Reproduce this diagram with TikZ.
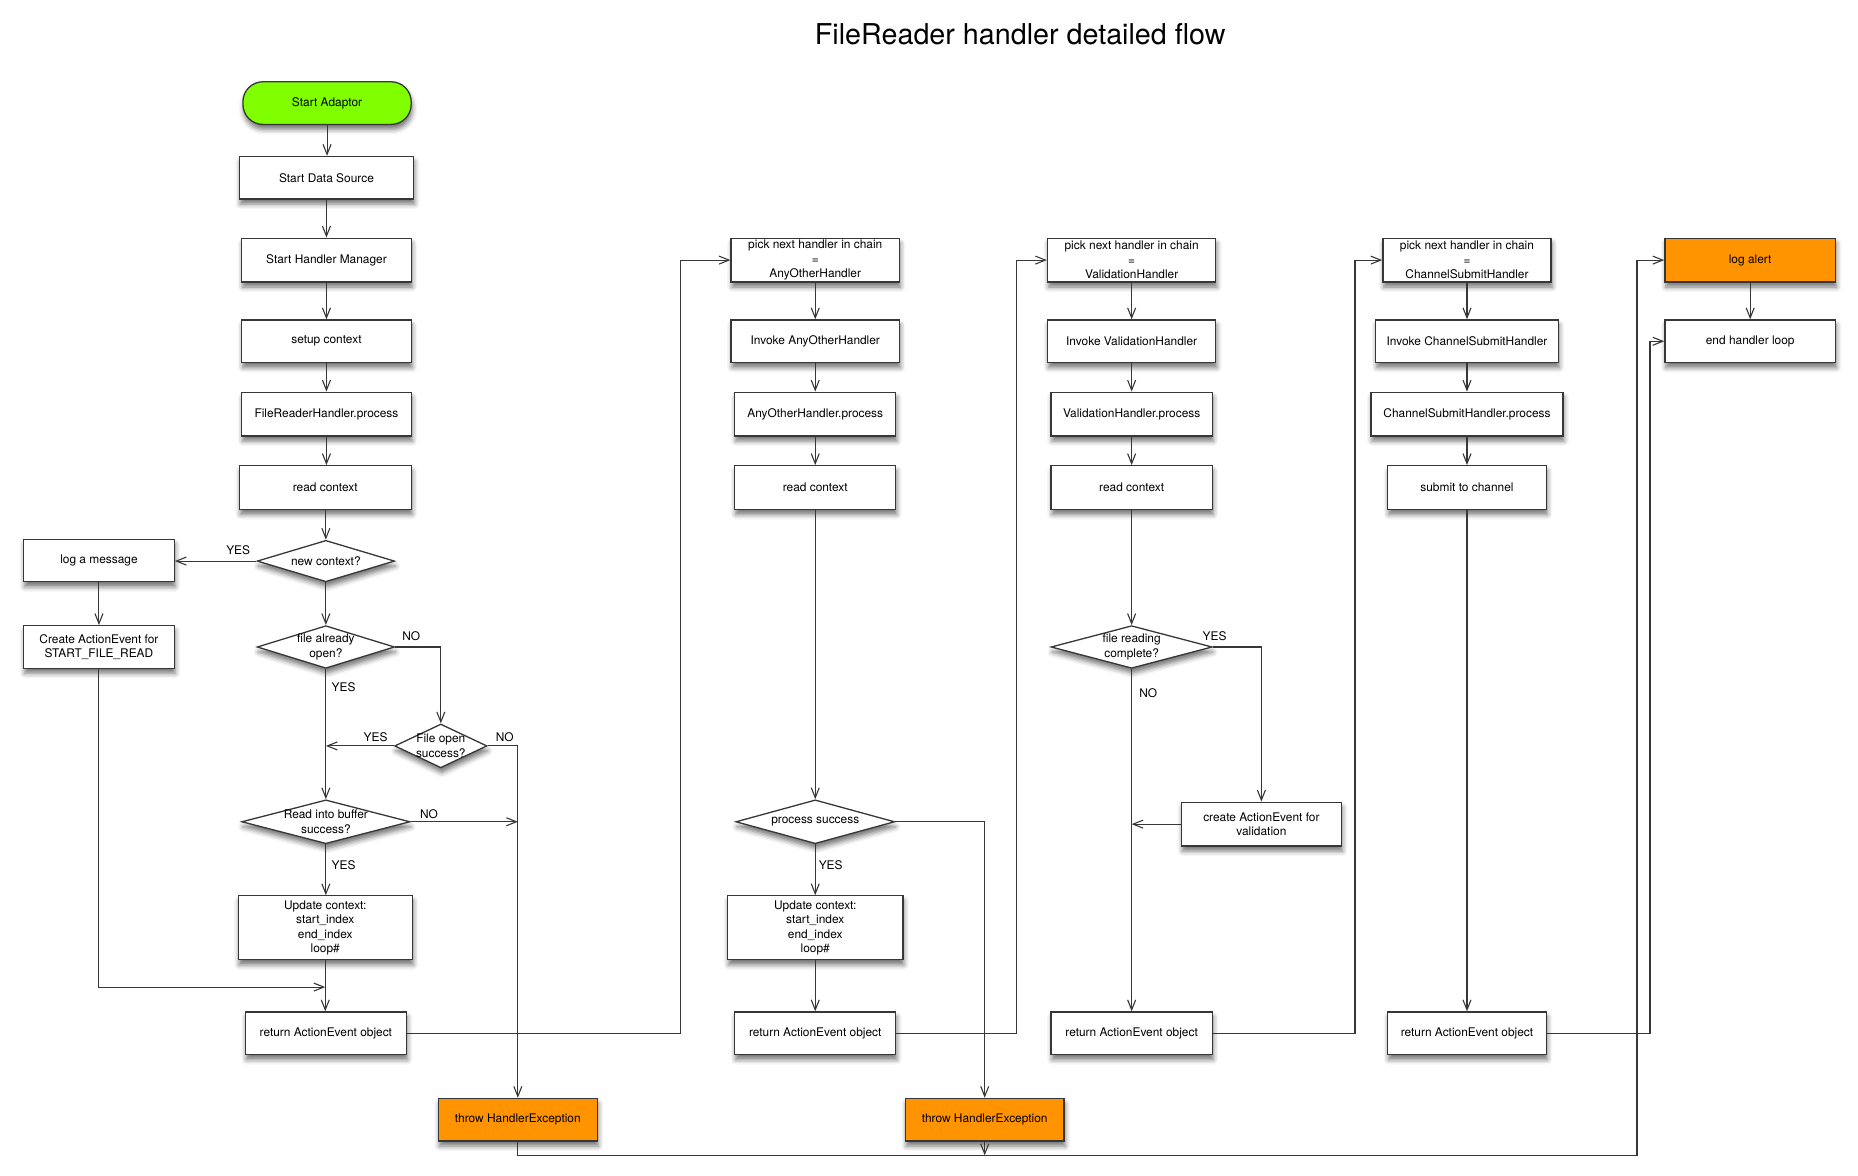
\documentclass[tikz,border=0pt]{standalone}
\usepackage{fontspec}
\setmainfont{TeX Gyre Heros}
\usetikzlibrary{arrows.meta,shapes.geometric,shadows.blur,calc}
\definecolor{lime}{RGB}{128,255,0}
\definecolor{orng}{RGB}{255,148,0}
\definecolor{edgec}{RGB}{55,55,55}
\newcommand\nf{\fontsize{11.9}{14.4}\selectfont}
% style, name, x1, x2, y1, y2, text
\newcommand\mkbox[7]{\node[#1, minimum width={(#4-#3)*1.185pt}, minimum height={(#6-#5)*1.185pt}] (#2) at ({(#3+#4)/2},{(#5+#6)/2}) {#7};}
\newcommand\mkdia[7]{\node[#1, minimum width={(#4-#3)*1.185pt}, minimum height={(#6-#5)*1.185pt}] (#2) at ({(#3+#4)/2},{(#5+#6)/2}) {};
\node[dtext] (#2T) at (#2.center) {#7};}
\newcommand\vd[2]{\draw[arr] (#1.south) -- (#1.south |- #2.north);}
\tikzset{
  shad/.style={blur shadow={shadow xshift=1pt, shadow yshift=-5pt, shadow blur radius=5pt, shadow opacity=55}},
  base/.style={draw=edgec, line width=1.3pt, fill=white, font=\nf, align=center, inner sep=0pt, shad},
  procbox/.style={base, rectangle},
  startbox/.style={base, rectangle, rounded corners=20pt, fill=lime},
  errbox/.style={base, rectangle, fill=orng},
  dia/.style={base, diamond, aspect=3},
  dtext/.style={font=\nf, align=center, inner sep=0pt},
  lbl/.style={font=\nf, inner sep=0pt},
  arr/.style={draw=edgec, line width=1.1pt, -{Straight Barb[length=10pt,width=8pt,line width=1.1pt]}},
}
\begin{document}
\begin{tikzpicture}[x=1.185pt, y=-1.185pt]
\useasboundingbox (0,0) rectangle (1568,992);
\node[font=\fontsize{28.7}{32}\selectfont] (title) at (861,29) {FileReader handler detailed flow};

% column 1
\mkbox{startbox}{start}{205}{347}{69}{105}{Start Adaptor}
\mkbox{procbox}{ds}{202}{349}{132}{168}{Start Data Source}
\mkbox{procbox}{hm}{204}{347}{201}{238}{Start Handler Manager}
\mkbox{procbox}{setup}{204}{347}{270}{306}{setup context}
\mkbox{procbox}{frp}{204}{347}{331}{368}{FileReaderHandler.process}
\mkbox{procbox}{rc1}{202}{347}{393}{430}{read context}
\mkdia{dia}{nc}{217}{333}{456}{491}{new context?}
\mkbox{procbox}{log}{20}{147}{455}{491}{log a message}
\mkbox{procbox}{create}{20}{147}{528}{564}{Create ActionEvent for\\START\_FILE\_READ}
\mkdia{dia}{fao}{217}{333}{528}{564}{file already\\open?}
\mkdia{dia}{fos}{333}{411}{611}{648}{File open\\success?}
\mkdia{dia}{rib}{204}{346}{675}{712}{Read into buffer\\success?}
\mkbox{procbox}{upd}{201}{348}{756}{810}{Update context:\\start\_index\\end\_index\\loop\#}
\mkbox{procbox}{ret1}{207}{343}{854}{890}{return ActionEvent object}
\mkbox{errbox}{thr1}{370}{504}{927}{963}{throw HandlerException}

% column 2
\mkbox{procbox}{pick1}{617}{759}{201}{238}{pick next handler in chain\\=\\AnyOtherHandler}
\mkbox{procbox}{inv1}{617}{759}{270}{306}{Invoke AnyOtherHandler}
\mkbox{procbox}{proc1}{620}{756}{331}{368}{AnyOtherHandler.process}
\mkbox{procbox}{rc2}{620}{756}{393}{430}{read context}
\mkdia{dia}{ps}{621}{755}{675}{712}{process success}
\mkbox{procbox}{upd2}{614}{762}{756}{810}{Update context:\\start\_index\\end\_index\\loop\#}
\mkbox{procbox}{ret2}{620}{756}{854}{890}{return ActionEvent object}
\mkbox{errbox}{thr2}{764}{898}{927}{963}{throw HandlerException}

% column 3
\mkbox{procbox}{pick2}{884}{1026}{201}{238}{pick next handler in chain\\=\\ValidationHandler}
\mkbox{procbox}{inv2}{884}{1026}{270}{306}{Invoke ValidationHandler}
\mkbox{procbox}{proc2}{887}{1023}{331}{368}{ValidationHandler.process}
\mkbox{procbox}{rc3}{887}{1023}{393}{430}{read context}
\mkdia{dia}{frc}{887}{1023}{528}{564}{file reading\\complete?}
\mkbox{procbox}{cav}{997}{1132}{677}{714}{create ActionEvent for\\validation}
\mkbox{procbox}{ret3}{887}{1023}{854}{890}{return ActionEvent object}

% column 4
\mkbox{procbox}{pick3}{1167}{1309}{201}{238}{pick next handler in chain\\=\\ChannelSubmitHandler}
\mkbox{procbox}{inv3}{1161}{1315}{270}{306}{Invoke ChannelSubmitHandler}
\mkbox{procbox}{proc3}{1157}{1319}{331}{368}{ChannelSubmitHandler.process}
\mkbox{procbox}{submit}{1171}{1305}{393}{430}{submit to channel}
\mkbox{procbox}{ret4}{1171}{1305}{854}{890}{return ActionEvent object}

% column 5
\mkbox{errbox}{alert}{1405}{1549}{201}{238}{log alert}
\mkbox{procbox}{endl}{1405}{1549}{270}{306}{end handler loop}

% labels
\node[lbl] (l1) at (201,464) {YES};
\node[lbl] (l2) at (347,537) {NO};
\node[lbl] (l3) at (290,580) {YES};
\node[lbl] (l4) at (317,622) {YES};
\node[lbl] (l5) at (426,622) {NO};
\node[lbl] (l6) at (362,687) {NO};
\node[lbl] (l7) at (290,730) {YES};
\node[lbl] (l8) at (701,730) {YES};
\node[lbl] (l9) at (1025,537) {YES};
\node[lbl] (l10) at (969,585) {NO};

\coordinate (bot) at (0,975);
\coordinate (m1) at (0,833);

% column 1 connectors
\vd{start}{ds}
\vd{ds}{hm}
\vd{hm}{setup}
\vd{setup}{frp}
\vd{frp}{rc1}
\draw[arr] (rc1.south -| nc.north) -- (nc.north);
\draw[arr] (nc.west) -- (nc.west -| log.east);
\vd{log}{create}
\vd{nc}{fao}
\draw[arr] (fao.east) -| (fos.north);
\vd{fao}{rib}
\draw[arr] (fos.west) -- (fos.west -| fao.south);
\draw[arr] (fos.east) -| (thr1.north);
\draw[arr] (rib.east) -- (rib.east -| thr1.north);
\vd{rib}{upd}
\vd{upd}{ret1}
\draw[arr] (create.south) |- (m1 -| upd.south);
\draw[arr] (ret1.east) -| ($(pick1.west)+(-42,0)$) -- (pick1.west);

% column 2 connectors
\vd{pick1}{inv1}
\vd{inv1}{proc1}
\vd{proc1}{rc2}
\vd{rc2}{ps}
\draw[arr] (ps.east) -| (thr2.north);
\vd{ps}{upd2}
\vd{upd2}{ret2}
\draw[arr] (ret2.east) -| ($(pick2.west)+(-26,0)$) -- (pick2.west);

% column 3 connectors
\vd{pick2}{inv2}
\vd{inv2}{proc2}
\vd{proc2}{rc3}
\vd{rc3}{frc}
\draw[arr] (frc.east) -| (cav.north);
\vd{frc}{ret3}
\draw[arr] (cav.west) -- (cav.west -| frc.south);
\draw[arr] (ret3.east) -| ($(pick3.west)+(-23,0)$) -- (pick3.west);

% column 4 connectors
\vd{pick3}{inv3}
\vd{inv3}{proc3}
\vd{proc3}{submit}
\vd{submit}{ret4}
\draw[arr] (ret4.east) -| ($(endl.west)+(-12,0)$) -- (endl.west);

% exceptions
\draw[arr] (thr1.south) -- (thr1.south |- bot) -| ($(alert.west)+(-23,0)$) -- (alert.west);
\draw[arr] (thr2.south) -- (thr2.south |- bot);
\vd{alert}{endl}
\end{tikzpicture}
\end{document}
